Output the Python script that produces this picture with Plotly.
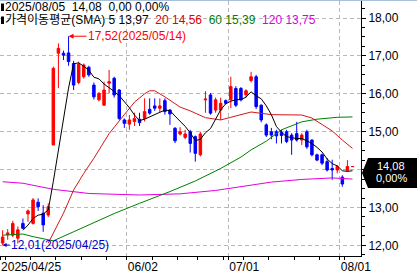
import pandas as pd
import plotly.graph_objects as go

# ---------------- data ----------------
holidays = ["2025-05-26", "2025-06-19", "2025-07-04"]
dates = [d.strftime("%Y/%m/%d") for d in pd.bdate_range("2025-04-25", "2025-08-05")
         if d.strftime("%Y-%m-%d") not in holidays]

opens = [12.06, 12.28, 12.27, 12.19, 12.58, 12.83, 12.58, 13.14, 12.85, 12.80,
         14.65, 17.07, 17.07, 17.08, 16.80, 16.30, 16.45, 16.70, 16.23, 15.84,
         15.70, 16.28, 16.41, 16.10, 15.31, 15.20, 15.27, 15.33, 15.35, 15.59,
         15.68, 15.62, 15.82, 15.57, 15.09, 14.94, 14.85, 15.00, 14.87, 14.39,
         15.84, 15.97, 15.57, 15.57, 15.82, 15.84, 16.14, 16.14, 15.97, 16.35,
         16.45, 15.70, 15.18, 15.00, 15.00, 14.98, 15.00, 14.91, 14.95, 14.78,
         15.00, 14.78, 14.39, 14.39, 14.21, 14.03, 13.99, 13.80, 13.98, 14.08]
highs = [12.40, 12.43, 12.65, 12.50, 12.71, 12.95, 13.25, 13.24, 13.06, 13.11,
         16.72, 17.33, 17.14, 17.52, 16.87, 16.85, 16.80, 16.74, 16.30, 16.05,
         16.32, 16.63, 16.45, 16.12, 15.35, 15.44, 15.50, 15.50, 15.88, 15.88,
         15.88, 15.88, 15.88, 15.60, 15.12, 15.12, 15.05, 15.05, 14.90, 15.00,
         16.07, 16.02, 15.90, 15.90, 15.85, 16.45, 16.20, 16.18, 16.12, 16.58,
         16.50, 15.72, 15.22, 15.10, 15.05, 15.05, 15.05, 14.96, 15.26, 14.96,
         15.05, 14.80, 14.42, 14.42, 14.30, 14.26, 14.12, 13.85, 14.25, 14.08]
lows = [12.01, 12.15, 12.22, 12.05, 12.43, 12.62, 12.55, 12.91, 12.36, 12.75,
        14.65, 16.15, 16.89, 16.74, 16.10, 16.25, 16.40, 16.45, 15.85, 15.80,
        15.68, 16.01, 15.90, 15.31, 15.10, 15.05, 15.15, 15.15, 15.27, 15.45,
        15.55, 15.50, 15.45, 15.18, 14.70, 14.90, 14.80, 14.45, 14.21, 14.35,
        15.50, 15.45, 15.50, 15.31, 15.72, 15.62, 15.65, 15.80, 15.90, 16.30,
        15.60, 15.25, 14.86, 14.80, 14.69, 14.69, 14.70, 14.39, 14.74, 14.65,
        14.55, 14.35, 14.22, 14.12, 13.95, 13.73, 13.90, 13.55, 13.96, 14.08]
closes = [12.22, 12.33, 12.58, 12.41, 12.45, 12.91, 13.20, 13.02, 12.54, 13.02,
          16.67, 17.20, 17.02, 16.85, 16.23, 16.78, 16.76, 16.50, 15.92, 16.01,
          16.10, 16.32, 15.97, 15.35, 15.22, 15.31, 15.35, 15.24, 15.53, 15.49,
          15.62, 15.68, 15.53, 15.47, 14.76, 15.00, 14.94, 14.69, 14.43, 14.94,
          15.86, 15.49, 15.84, 15.75, 15.75, 16.19, 15.70, 15.84, 16.08, 16.45,
          15.66, 15.31, 14.91, 14.91, 14.89, 14.90, 14.74, 14.78, 14.78, 14.91,
          14.60, 14.39, 14.25, 14.17, 13.99, 13.99, 14.08, 13.62, 14.08, 14.08]

# moving averages (index, value)
ma20_idx = [9, 12, 14, 16, 18, 21, 24, 26, 28, 29, 30, 32, 35, 37, 40, 43, 45, 49, 53, 56, 59, 61, 63, 65, 67, 69]
ma20_val = [12.06, 12.85, 13.46, 13.90, 14.30, 14.95, 15.45, 15.78, 16.00, 16.08, 16.08, 15.92, 15.65, 15.55,
            15.37, 15.31, 15.38, 15.52, 15.45, 15.44, 15.44, 15.36, 15.20, 15.02, 14.78, 14.56]
ma60_idx = [0, 4, 6, 10, 14, 18, 22, 27, 33, 38, 43, 47, 49, 52, 55, 59, 62, 66, 69]
ma60_val = [12.27, 12.30, 12.23, 12.12, 12.36, 12.60, 12.84, 13.11, 13.42, 13.70, 14.03, 14.33, 14.52,
            14.75, 15.05, 15.26, 15.33, 15.38, 15.39]
ma120_idx = [0, 4, 10, 17, 27, 35, 42, 49, 53, 59, 65, 69]
ma120_val = [13.68, 13.64, 13.48, 13.37, 13.33, 13.36, 13.45, 13.58, 13.67, 13.74, 13.78, 13.75]

tick_dates = ["2025/04/25", "2025/06/02", "2025/07/01", "2025/08/01"]
tick_text = ["2025/04/25", "06/02", "07/01", "08/01"]
price_ticks = [12, 13, 14, 15, 16, 17, 18]

# ---------------- derived ----------------
x = list(range(len(dates)))
ma5 = pd.Series(closes).rolling(5).mean().tolist()
ma5_idx = [i for i in x if i >= 4]
ma5_val = [ma5[i] for i in ma5_idx]

dts = pd.to_datetime(dates)
week_starts = [i - 0.5 for i in x if i > 0 and dts[i].isocalendar()[1] != dts[i - 1].isocalendar()[1]]
month_ticks = [dates.index(d) - 0.5 for d in tick_dates]

def fmt(v):
    return f"{v:.2f}".replace(".", ",")

last = closes[-1]
chg = closes[-1] - closes[-2]
pct = chg / closes[-2] * 100

# the price tag covers the tick label nearest to the last price
covered = min(price_ticks, key=lambda t: abs(t - last))
price_text = ["" if t == covered else fmt(t) for t in price_ticks]

FONT = "Liberation Sans, Noto Sans CJK KR, sans-serif"
RED = "#e00000"
GREEN = "#008000"
MAG = "#e000e0"
SP = "&nbsp;&nbsp;"

PW, PT, PB = 361.0, 1.0, 256.0
PH = PB - PT

def pxx(v):
    return v / PW

def pyy(v):
    return (PB - v) / PH

fig = go.Figure()
fig.add_trace(go.Scatter(x=ma120_idx, y=ma120_val, mode="lines", line=dict(color=MAG, width=1), hoverinfo="skip"))
fig.add_trace(go.Scatter(x=ma60_idx, y=ma60_val, mode="lines", line=dict(color=GREEN, width=1), hoverinfo="skip"))
fig.add_trace(go.Scatter(x=ma20_idx, y=ma20_val, mode="lines", line=dict(color="#d01818", width=1), hoverinfo="skip"))
fig.add_trace(go.Scatter(x=ma5_idx, y=ma5_val, mode="lines", line=dict(color="black", width=1), hoverinfo="skip"))
fig.add_trace(go.Candlestick(
    x=x, open=opens, high=highs, low=lows, close=closes,
    increasing=dict(line=dict(color="#ff0000", width=1), fillcolor="#ff0000"),
    decreasing=dict(line=dict(color="#0000ff", width=1), fillcolor="#0000ff"),
    whiskerwidth=0, hoverinfo="skip"))

# high / low markers
hi_i = highs.index(max(highs))
lo_i = lows.index(min(lows))
annotations = [
    dict(x=hi_i, y=highs[hi_i], xref="x", yref="y", text=f"{fmt(highs[hi_i])}({dates[hi_i]})",
         showarrow=True, ax=18, ay=0, xanchor="left", arrowhead=2, arrowsize=1, arrowwidth=1,
         arrowcolor="#ff0000", font=dict(family=FONT, size=12, color="#ff0000"), borderpad=0),
    dict(x=lo_i, y=lows[lo_i], xref="x", yref="y", text=f"{fmt(lows[lo_i])}({dates[lo_i]})",
         showarrow=True, ax=7, ay=0, xanchor="left", arrowhead=2, arrowsize=0.8, arrowwidth=1,
         arrowcolor="#0000c0", font=dict(family=FONT, size=12, color="#0000c0"), borderpad=0),
]

line1 = f"{dates[-1]}{SP}{fmt(last)}{SP}{fmt(chg)} {fmt(pct)}%"
line2 = (f"가격이동평균(SMA) 5 {fmt(ma5_val[-1])}{SP}"
         f"<span style='color:{RED}'>20 {fmt(ma20_val[-1])}</span>{SP}"
         f"<span style='color:{GREEN}'>60 {fmt(ma60_val[-1])}</span>{SP}"
         f"<span style='color:{MAG}'>120 {fmt(ma120_val[-1])}</span>")
annotations += [
    dict(x=pxx(4), y=pyy(7), xref="paper", yref="paper", text=line1, showarrow=False,
         xanchor="left", yanchor="middle", font=dict(family=FONT, size=12, color="black"), borderpad=0),
    dict(x=pxx(4), y=pyy(20.5), xref="paper", yref="paper", text=line2, showarrow=False,
         xanchor="left", yanchor="middle", font=dict(family=FONT, size=12, color="black"), borderpad=0),
    dict(x=pxx(391), y=pyy(166), xref="paper", yref="paper", text=fmt(last), showarrow=False,
         xanchor="center", yanchor="middle", font=dict(family=FONT, size=11, color="white"), borderpad=0),
    dict(x=pxx(391), y=pyy(178), xref="paper", yref="paper", text=f"{fmt(pct)}%", showarrow=False,
         xanchor="center", yanchor="middle", font=dict(family=FONT, size=11, color="white"), borderpad=0),
]

shapes = [
    dict(type="rect", xref="paper", yref="paper", x0=pxx(1), x1=pxx(4), y0=pyy(11), y1=pyy(3.5),
         fillcolor="black", line=dict(width=0)),
    dict(type="rect", xref="paper", yref="paper", x0=pxx(1), x1=pxx(4), y0=pyy(24), y1=pyy(16.5),
         fillcolor="black", line=dict(width=0)),
    dict(type="path", xref="paper", yref="paper",
         path=(f"M {pxx(362)},{pyy(173)} L {pxx(368)},{pyy(158)} L {pxx(417)},{pyy(158)} "
               f"L {pxx(417)},{pyy(188)} L {pxx(368)},{pyy(188)} Z"),
         fillcolor="black", line=dict(width=0), layer="above"),
    dict(type="line", xref="paper", yref="paper", x0=0, x1=pxx(417), y0=pyy(0.5), y1=pyy(0.5),
         line=dict(color="#a8c0dc", width=1)),
]

fig.update_layout(
    width=417, height=276,
    margin=dict(l=0, r=56, t=1, b=20),
    paper_bgcolor="white", plot_bgcolor="white",
    showlegend=False, separators=",.",
    font=dict(family=FONT, size=12, color="black"),
    annotations=annotations, shapes=shapes,
    xaxis=dict(range=[-0.52, 70.68], rangeslider=dict(visible=False),
               tickvals=month_ticks, ticktext=tick_text, ticklabelposition="outside right",
               ticks="outside", ticklen=3, tickcolor="black",
               showgrid=True, gridcolor="#b8b8b8", griddash="4px,3px", gridwidth=1,
               showline=True, linecolor="black", linewidth=1, zeroline=False,
               tickfont=dict(family=FONT, size=12, color="black"),
               minor=dict(tickvals=week_starts, ticks="outside", ticklen=3, tickcolor="black", showgrid=False)),
    yaxis=dict(range=[11.72, 18.449], side="right", tickvals=price_ticks, ticktext=price_text,
               ticks="outside", ticklen=4, tickcolor="black",
               showgrid=True, gridcolor="#b8b8b8", griddash="4px,3px", gridwidth=1,
               showline=True, linecolor="black", linewidth=1, zeroline=False,
               tickfont=dict(family=FONT, size=12, color="black"),
               minor=dict(dtick=0.25, ticks="outside", ticklen=3, tickcolor="black", showgrid=False)),
)

fig.write_html("out.html")
